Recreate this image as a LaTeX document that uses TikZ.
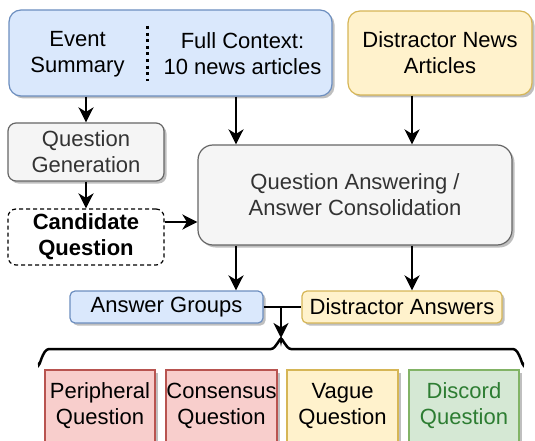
\documentclass[tikz,border=0pt]{standalone}
\usepackage{fontspec}
\setmainfont{Liberation Sans}
\usetikzlibrary{arrows.meta,shadows,calc}
\definecolor{bluef}{HTML}{DAE8FC}
\definecolor{blued}{HTML}{6C8EBF}
\definecolor{yelf}{HTML}{FFF2CC}
\definecolor{yeld}{HTML}{D6B656}
\definecolor{grayf}{HTML}{F5F5F5}
\definecolor{grayd}{HTML}{666666}
\definecolor{grayt}{HTML}{333333}
\definecolor{redf}{HTML}{F8CECC}
\definecolor{redd}{HTML}{B85450}
\definecolor{greenf}{HTML}{D5E8D4}
\definecolor{greend}{HTML}{82B366}
\definecolor{greent}{HTML}{2D7D32}
\tikzset{
  shad/.style={drop shadow={shadow xshift=2.5pt, shadow yshift=-2.5pt, fill=black, opacity=0.25}},
  box/.style={draw, line width=1.2pt, inner sep=0pt, align=center, shad},
  bluebox/.style={box, fill=bluef, draw=blued},
  yelbox/.style={box, fill=yelf, draw=yeld},
  graybox/.style={box, fill=grayf, draw=grayd, text=grayt},
  redbox/.style={box, fill=redf, draw=redd},
  greenbox/.style={box, fill=greenf, draw=greend, text=greent},
  txt/.style={inner sep=0pt, align=center},
  arr/.style={line width=2pt, -{Stealth[length=15pt,width=15pt,inset=4.5pt]}},
  plain/.style={line width=2pt},
}
\begin{document}
\begin{tikzpicture}[x=1pt,y=-1pt, font=\fontsize{22}{26}\selectfont]
\useasboundingbox (0,0) rectangle (535,441);

% top row
\node[bluebox, rounded corners=12pt, minimum width=323pt, minimum height=86pt] (top) at (170.5,53) {};
\node[txt] (evsum) at (77.5,54) {Event\\Summary};
\node[txt] (fullctx) at (242.5,54) {Full Context:\\10 news articles};
\draw[line width=3pt, dash pattern=on 3pt off 3.6pt] (147,26) -- (147,81);
\node[yelbox, rounded corners=12pt, minimum width=184pt, minimum height=84pt] (dnews) at (440,53) {Distractor News\\Articles};

% left column
\node[graybox, rounded corners=8pt, minimum width=156pt, minimum height=58pt] (qgen) at (86,152) {Question\\Generation};
\node[draw, line width=1.2pt, dash pattern=on 4pt off 3pt, rounded corners=8pt, inner sep=0pt, align=center, minimum width=156pt, minimum height=56pt, font=\fontsize{22}{26}\selectfont\bfseries] (cand) at (86,237) {Candidate\\Question};

% QA
\node[graybox, rounded corners=15pt, minimum width=314pt, minimum height=100pt] (qa) at (355,195) {Question Answering /\\Answer Consolidation};

% answers
\node[bluebox, rounded corners=5pt, minimum width=193pt, minimum height=32pt] (ag) at (166.5,307) {Answer Groups};
\node[yelbox, rounded corners=5pt, minimum width=200pt, minimum height=32pt] (da) at (402,307) {Distractor Answers};
\coordinate (junc) at (281,307);
\coordinate (cusp) at (281,340);

% bottom boxes
\node[redbox, minimum width=110pt, minimum height=72pt] (peri) at (100,406) {Peripheral\\Question};
\node[redbox, minimum width=111pt, minimum height=72pt] (cons) at (221.5,406) {Consensus\\Question};
\node[yelbox, minimum width=111pt, minimum height=72pt] (vague) at (342.5,406) {Vague\\Question};
\node[greenbox, minimum width=110pt, minimum height=72pt] (disc) at (464,406) {Discord\\Question};

% connectors
\draw[arr] (top.south -| qgen.north) -- (qgen.north);
\draw[arr] (top.south -| 236,0) -- (qa.north -| 236,0);
\draw[arr] (dnews.south -| 412,0) -- (qa.north -| 412,0);
\draw[arr] (qgen.south) -- (cand.north);
\draw[arr] (cand.east |- 0,222) -- (qa.west |- 0,222);
\draw[arr] (qa.south -| 236,0) -- (ag.north -| 236,0);
\draw[arr] (qa.south -| 412,0) -- (da.north -| 412,0);
\draw[plain] (ag.east) -- (da.west);
\draw[arr] (junc) -- (281,338);

% brace
\draw[line width=2.5pt, line cap=round] (39,363) to[out=-90,in=180] (49,349) -- (271,349) to[out=0,in=90] (cusp) to[out=90,in=180] (291,349) -- (513,349) to[out=0,in=-90] (523,363);
\end{tikzpicture}
\end{document}
